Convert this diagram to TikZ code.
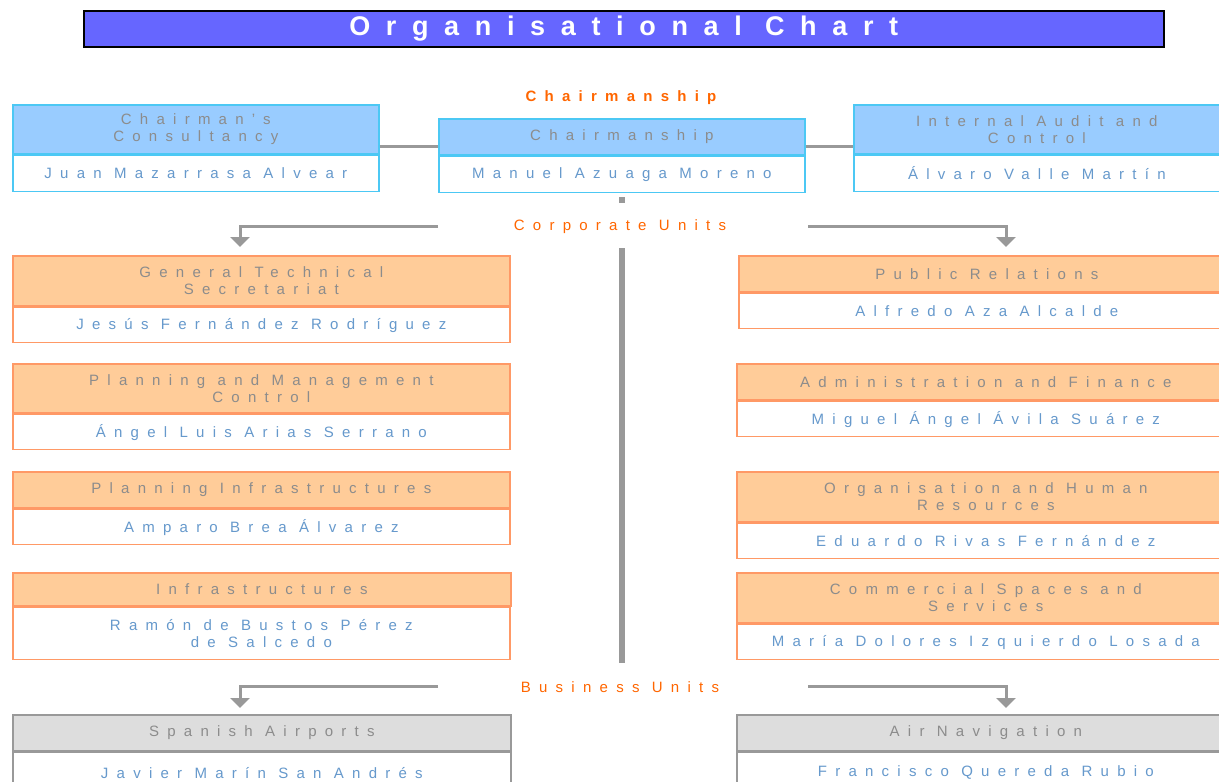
\documentclass[tikz,border=0pt]{standalone}
\usepackage{fontspec}
\setmainfont{Liberation Sans}[LetterSpace=55]
\newfontfamily\titlefont{Liberation Sans}[LetterSpace=58]
\usetikzlibrary{arrows.meta}
\definecolor{titleblue}{HTML}{6666FF}
\definecolor{orangelab}{HTML}{FF6600}
\definecolor{bbord}{HTML}{4CC8F4}
\definecolor{bfill}{HTML}{99CCFF}
\definecolor{obord}{HTML}{FF9966}
\definecolor{ofill}{HTML}{FFCC99}
\definecolor{gbord}{HTML}{999999}
\definecolor{gfill}{HTML}{DDDDDD}
\definecolor{hdrtext}{HTML}{8C8C8C}
\definecolor{nametext}{HTML}{6699CC}
\definecolor{connc}{HTML}{999999}
\newcommand{\boxfont}{\fontsize{15}{17}\selectfont}
\begin{document}
\begin{tikzpicture}[x=1pt,y=1pt,
  box/.style={rectangle, line width=1.7pt, inner sep=0pt, anchor=north west, align=center,
              font=\boxfont},
  hdr/.style={box, text=hdrtext},
  nm/.style={box, fill=white, text=nametext},
  bh/.style={hdr, draw=bbord, fill=bfill},
  bn/.style={nm, draw=bbord},
  oh/.style={hdr, draw=obord, fill=ofill},
  on/.style={nm, draw=obord},
  gh/.style={hdr, draw=gbord, fill=gfill},
  gn/.style={nm, draw=gbord},
  lab/.style={text=orangelab, font=\boxfont},
  conn/.style={draw=connc, line width=3pt},
  arr/.style={conn, -{Triangle[width=19pt,length=10pt]}},
  vline/.style={draw=connc, line width=6pt}
]
\useasboundingbox (0,0) rectangle (1219,-782);
\fill[white] (0,0) rectangle (1219,-782);

% title
\node[draw=black, line width=1.5pt, fill=titleblue, minimum width=1080pt, minimum height=36pt,
      anchor=north west, inner sep=0pt, text=white,
      font=\titlefont\bfseries\fontsize{27}{30}\selectfont] (title) at (83,-10) {\raisebox{-2pt}{Organisational Chart}};

% chairmanship level
\node[lab, font=\bfseries\boxfont] (lchair) at (621,-98) {Chairmanship};
\node[bh, minimum width=366pt, minimum height=49pt] (cc-h) at (12,-104) {Chairman's\\Consultancy};
\node[bn, minimum width=366pt, minimum height=36pt] (cc-n) at (cc-h.south west) {Juan Mazarrasa Alvear};
\node[bh, minimum width=366pt, minimum height=36pt] (ch-h) at (438,-118) {Chairmanship};
\node[bn, minimum width=366pt, minimum height=36pt] (ch-n) at (ch-h.south west) {Manuel Azuaga Moreno};
\node[bh, minimum width=366pt, minimum height=49pt] (ia-h) at (853,-104) {Internal Audit and\\Control};
\node[bn, minimum width=366pt, minimum height=36pt] (ia-n) at (ia-h.south west) {Álvaro Valle Martín};

\coordinate (ytop) at (0,-146);
\draw[conn] (cc-h.east |- ytop) -- (ch-h.west |- ytop);
\draw[conn] (ch-h.east |- ytop) -- (ia-h.west |- ytop);

% corporate units
\node[lab] (lcorp) at (620,-227) {Corporate Units};
\coordinate (v1a) at (622,-197);
\coordinate (v1b) at (622,-203);
\coordinate (v2a) at (622,-248);
\coordinate (v2b) at (622,-663);
\draw[vline] (v1a) -- (v1b);
\draw[vline] (v2a) -- (v2b);

\coordinate (cl0) at (438,-226);
\coordinate (cl1) at (240,-247);
\coordinate (cr0) at (808,-226);
\coordinate (cr1) at (1006,-247);
\draw[arr] (cl0) -| (cl1);
\draw[arr] (cr0) -| (cr1);

% left corporate column
\node[oh, minimum width=497pt, minimum height=50pt] (gts-h) at (12,-255) {General Technical\\Secretariat};
\node[on, minimum width=497pt, minimum height=35pt] (gts-n) at (gts-h.south west) {Jesús Fernández Rodríguez};
\node[oh, minimum width=497pt, minimum height=49pt] (pmc-h) at (12,-363) {Planning and Management\\Control};
\node[on, minimum width=497pt, minimum height=35pt] (pmc-n) at (pmc-h.south west) {Ángel Luis Arias Serrano};
\node[oh, minimum width=497pt, minimum height=36pt] (pi-h) at (12,-471) {Planning Infrastructures};
\node[on, minimum width=497pt, minimum height=35pt] (pi-n) at (pi-h.south west) {Amparo Brea Álvarez};
\node[oh, minimum width=498pt, minimum height=33pt] (inf-h) at (12,-572) {Infrastructures};
\node[on, minimum width=497pt, minimum height=52pt] (inf-n) at (inf-h.south west) {Ramón de Bustos Pérez\\de Salcedo};

% right corporate column
\node[oh, minimum width=496pt, minimum height=36pt] (pr-h) at (738,-255) {Public Relations};
\node[on, minimum width=496pt, minimum height=35pt] (pr-n) at (pr-h.south west) {Alfredo Aza Alcalde};
\node[oh, minimum width=498pt, minimum height=36pt] (af-h) at (736,-363) {Administration and Finance};
\node[on, minimum width=498pt, minimum height=35pt] (af-n) at (af-h.south west) {Miguel Ángel Ávila Suárez};
\node[oh, minimum width=498pt, minimum height=50pt] (ohr-h) at (736,-471) {Organisation and Human\\Resources};
\node[on, minimum width=498pt, minimum height=35pt] (ohr-n) at (ohr-h.south west) {Eduardo Rivas Fernández};
\node[oh, minimum width=498pt, minimum height=50pt] (cs-h) at (736,-572) {Commercial Spaces and\\Services};
\node[on, minimum width=498pt, minimum height=35pt] (cs-n) at (cs-h.south west) {María Dolores Izquierdo Losada};

% business units
\node[lab] (lbus) at (620,-687) {Business Units};
\coordinate (bl0) at (438,-686);
\coordinate (bl1) at (240,-708);
\coordinate (br0) at (808,-686);
\coordinate (br1) at (1006,-708);
\draw[arr] (bl0) -| (bl1);
\draw[arr] (br0) -| (br1);

\node[gh, minimum width=498pt, minimum height=36pt] (sa-h) at (12,-714) {Spanish Airports};
\node[gn, minimum width=498pt, minimum height=40pt] (sa-n) at (sa-h.south west) {Javier Marín San Andrés};
\node[gh, minimum width=498pt, minimum height=36pt] (an-h) at (736,-714) {Air Navigation};
\node[gn, minimum width=498pt, minimum height=40pt] (an-n) at (an-h.south west) {Francisco Quereda Rubio};
\end{tikzpicture}
\end{document}
